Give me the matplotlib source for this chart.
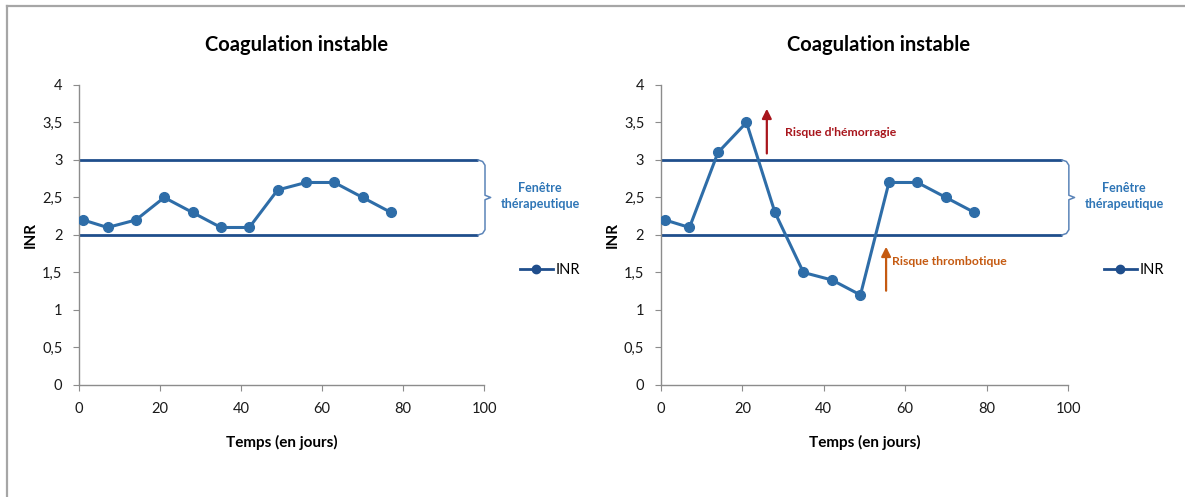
import matplotlib.pyplot as plt
from matplotlib.lines import Line2D
from matplotlib.ticker import FuncFormatter

# --- données ---
jours = [1, 7, 14, 21, 28, 35, 42, 49, 56, 63, 70, 77]
inr_gauche = [2.2, 2.1, 2.2, 2.5, 2.3, 2.1, 2.1, 2.6, 2.7, 2.7, 2.5, 2.3]
inr_droite = [2.2, 2.1, 3.1, 3.5, 2.3, 1.5, 1.4, 1.2, 2.7, 2.7, 2.5, 2.3]
fenetre_min, fenetre_max = 2, 3
fenetre_x = [0, 98.5]

plt.rcParams['font.family'] = ['Lato', 'DejaVu Sans']

BLEU = '#2E6DA8'
MARINE = '#1F4E8C'
BLEU_TXT = '#2E75B6'
ROUGE = '#A8151C'
ORANGE = '#C55A11'
GRIS = '#8C8C8C'


def virgule(v, p):
    s = f'{v:g}'
    return s.replace('.', ',')


def preparer_axe(ax, serie):
    # fenêtre thérapeutique
    for yv in (fenetre_min, fenetre_max):
        ax.plot(fenetre_x, [yv, yv], color=MARINE, lw=2, solid_capstyle='butt')
    ax.plot(jours, serie, color=BLEU, lw=2.2, marker='o', ms=7, label='INR', zorder=3)

    # accolade
    bx = [98.5, 99.6, 100.2, 100.2, 101.6, 100.2, 100.2, 99.6, 98.5]
    by = [3.0, 2.98, 2.93, 2.53, 2.5, 2.47, 2.07, 2.02, 2.0]
    ax.plot(bx, by, color='#5B84B8', lw=1.1, clip_on=False)
    ax.text(113.8, 2.52, 'Fenêtre\nthérapeutique', color=BLEU_TXT, fontsize=9,
            fontweight='bold', ha='center', va='center', linespacing=1.45)

    ax.set_xlim(0, 100)
    ax.set_ylim(0, 4)
    ax.set_xticks(range(0, 101, 20))
    ax.set_yticks([0, 0.5, 1, 1.5, 2, 2.5, 3, 3.5, 4])
    ax.yaxis.set_major_formatter(FuncFormatter(virgule))
    for s in ('top', 'right'):
        ax.spines[s].set_visible(False)
    for s in ('left', 'bottom'):
        ax.spines[s].set_color(GRIS)
        ax.spines[s].set_linewidth(1)
    ax.tick_params(colors=GRIS, labelcolor='#1a1a1a', labelsize=10.5, length=4, pad=8)
    ax.set_xlabel('Temps (en jours)', fontsize=11, fontweight='bold', labelpad=14)
    ax.set_ylabel('INR', fontsize=11, fontweight='bold', labelpad=3)

    h = Line2D([], [], color=MARINE, lw=2, marker='o', ms=6)
    ax.legend([h], ['INR'], loc='center left', bbox_to_anchor=(1.055, 0.383),
              frameon=False, fontsize=10.5, handlelength=2.3, handletextpad=0.15)


fig = plt.figure(figsize=(11.85, 4.97), dpi=100)
ax1 = fig.add_axes([0.0668, 0.2254, 0.3418, 0.6036])
ax2 = fig.add_axes([0.5578, 0.2254, 0.3435, 0.6036])

preparer_axe(ax1, inr_gauche)
preparer_axe(ax2, inr_droite)

# flèches de risque (graphique de droite)
ax2.annotate('', xy=(26, 3.72), xytext=(26, 3.05),
             arrowprops=dict(arrowstyle='-|>', color=ROUGE, lw=1.6, mutation_scale=14))
ax2.text(30.5, 3.37, "Risque d'hémorragie", color=ROUGE, fontsize=8.8,
         fontweight='bold', va='center')
ax2.annotate('', xy=(55.3, 1.88), xytext=(55.3, 1.22),
             arrowprops=dict(arrowstyle='-|>', color=ORANGE, lw=1.6, mutation_scale=14))
ax2.text(56.8, 1.64, 'Risque thrombotique', color=ORANGE, fontsize=8.8,
         fontweight='bold', va='center')

fig.text(0.2506, 0.909, 'Coagulation instable', fontsize=14.5, fontweight='bold',
         ha='center', va='center')
fig.text(0.7413, 0.909, 'Coagulation instable', fontsize=14.5, fontweight='bold',
         ha='center', va='center')

# cadre gris du graphique
fig.add_artist(Line2D([7 / 1185, 1], [1 - 6 / 497] * 2, transform=fig.transFigure,
                      color='#A6A6A6', lw=1.6))
fig.add_artist(Line2D([7 / 1185] * 2, [0, 1 - 6 / 497], transform=fig.transFigure,
                      color='#A6A6A6', lw=1.6))

fig.savefig('out.png', dpi=100)
